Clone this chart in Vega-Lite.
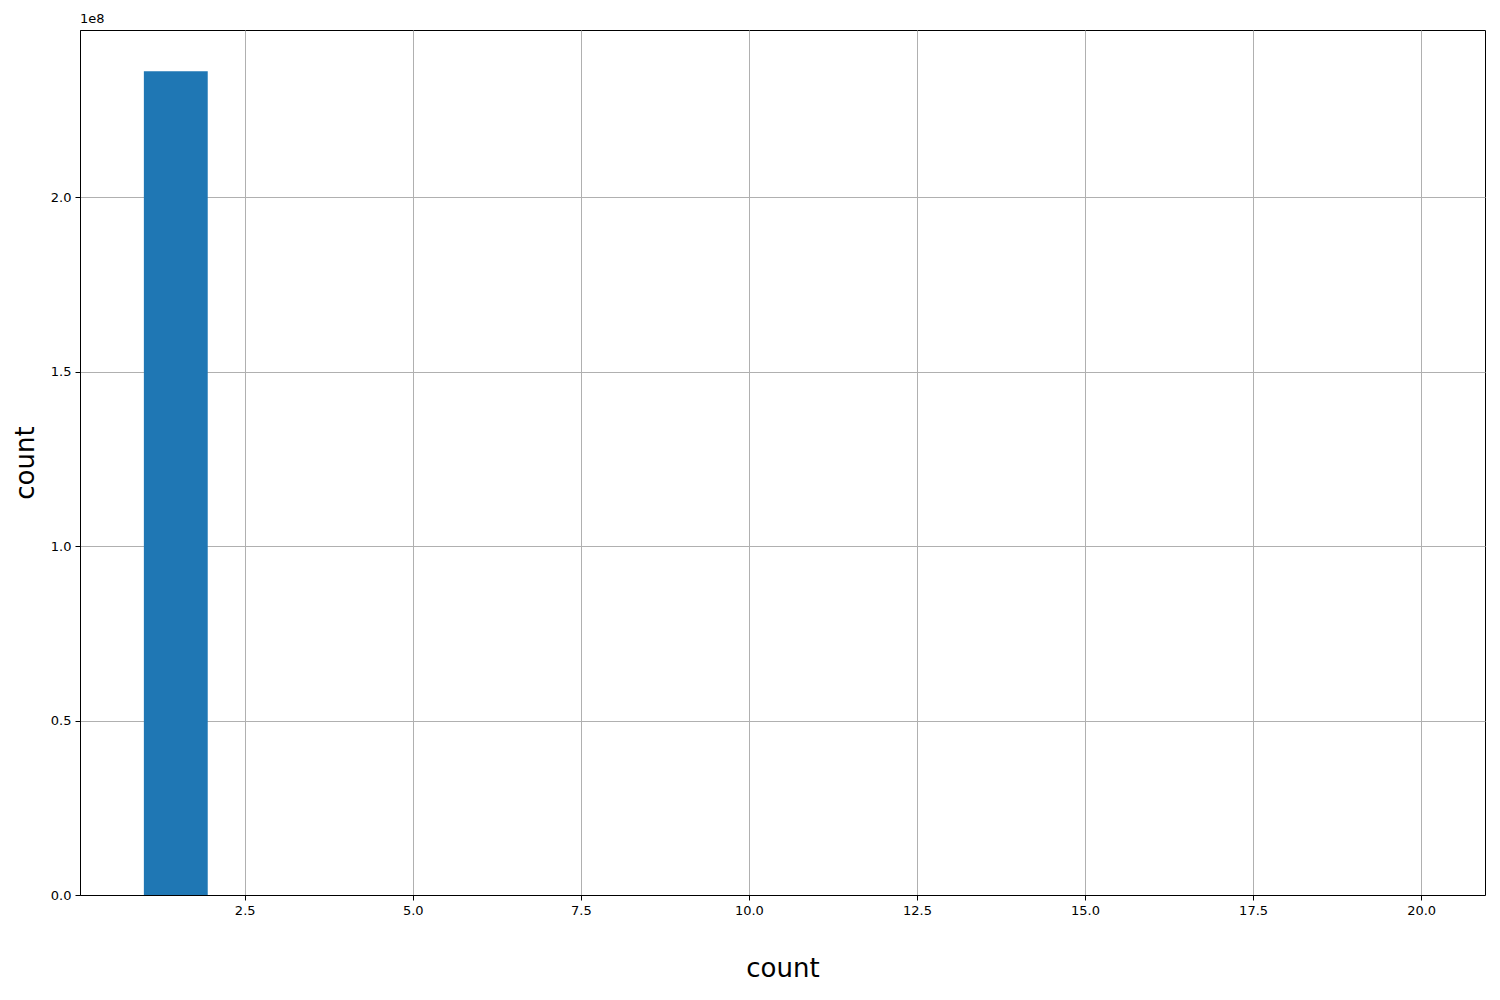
{
  "$schema": "https://vega.github.io/schema/vega-lite/v6.json",
  "width": 1405,
  "height": 865,
  "autosize": {"type": "none"},
  "padding": {"left": 80, "top": 30, "right": 15, "bottom": 105},
  "background": "white",
  "title": {
    "text": "1e8",
    "anchor": "start",
    "frame": "group",
    "fontSize": 13,
    "fontWeight": "normal",
    "font": "DejaVu Sans",
    "color": "black",
    "offset": 4
  },
  "config": {
    "view": {"stroke": "black", "strokeWidth": 1},
    "axis": {
      "labelFont": "DejaVu Sans",
      "labelFontSize": 13,
      "labelColor": "black",
      "titleFont": "DejaVu Sans",
      "titleFontWeight": "normal",
      "titleColor": "black",
      "titleFontSize": 26,
      "tickColor": "black",
      "tickSize": 5,
      "labelPadding": 4,
      "domainColor": "black",
      "gridColor": "#b0b0b0",
      "gridWidth": 1,
      "zindex": 1
    }
  },
  "data": {
    "values": [
      {"bin_start": 1.0, "bin_end": 1.95, "count": 236100000},
      {"bin_start": 1.95, "bin_end": 2.9, "count": 0},
      {"bin_start": 2.9, "bin_end": 3.85, "count": 0},
      {"bin_start": 3.85, "bin_end": 4.8, "count": 0},
      {"bin_start": 4.8, "bin_end": 5.75, "count": 0},
      {"bin_start": 5.75, "bin_end": 6.7, "count": 0},
      {"bin_start": 6.7, "bin_end": 7.65, "count": 0},
      {"bin_start": 7.65, "bin_end": 8.6, "count": 0},
      {"bin_start": 8.6, "bin_end": 9.55, "count": 0},
      {"bin_start": 9.55, "bin_end": 10.5, "count": 0},
      {"bin_start": 10.5, "bin_end": 11.45, "count": 0},
      {"bin_start": 11.45, "bin_end": 12.4, "count": 0},
      {"bin_start": 12.4, "bin_end": 13.35, "count": 0},
      {"bin_start": 13.35, "bin_end": 14.3, "count": 0},
      {"bin_start": 14.3, "bin_end": 15.25, "count": 0},
      {"bin_start": 15.25, "bin_end": 16.2, "count": 0},
      {"bin_start": 16.2, "bin_end": 17.15, "count": 0},
      {"bin_start": 17.15, "bin_end": 18.1, "count": 0},
      {"bin_start": 18.1, "bin_end": 19.05, "count": 0},
      {"bin_start": 19.05, "bin_end": 20.0, "count": 0}
    ]
  },
  "mark": {"type": "rect", "color": "#1f77b4", "clip": true},
  "encoding": {
    "x": {
      "field": "bin_start",
      "type": "quantitative",
      "scale": {"domain": [0.05, 20.95], "nice": false, "zero": false},
      "axis": {
        "title": "count",
        "values": [2.5, 5, 7.5, 10, 12.5, 15, 17.5, 20],
        "format": ".1f",
        "titlePadding": 38,
        "labelFlush": false
      }
    },
    "x2": {"field": "bin_end"},
    "y": {
      "field": "count",
      "type": "quantitative",
      "scale": {"domain": [0, 247900000], "nice": false},
      "axis": {
        "title": "count",
        "values": [0, 50000000, 100000000, 150000000, 200000000],
        "labelExpr": "format(datum.value / 1e8, '.1f')",
        "titlePadding": 12,
        "labelFlush": false
      }
    },
    "y2": {"datum": 0}
  }
}
